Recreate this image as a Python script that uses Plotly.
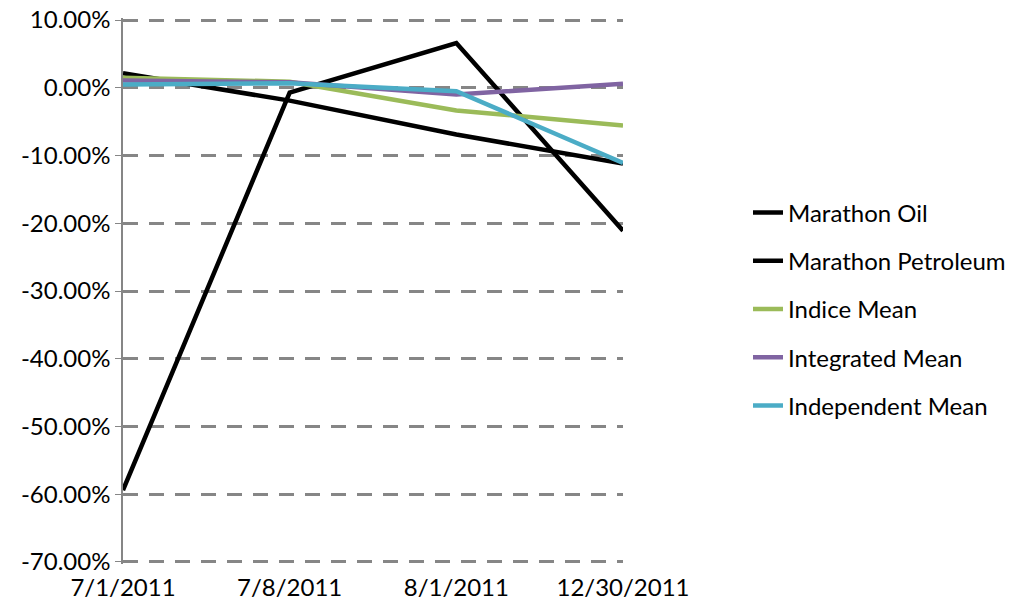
import plotly.graph_objects as go

dates = ["7/1/2011", "7/8/2011", "8/1/2011", "12/30/2011"]
marathon_oil = [-0.594, -0.007, 0.066, -0.211]
marathon_petroleum = [0.0215, -0.019, -0.069, -0.112]
indice_mean = [0.0147, 0.009, -0.0335, -0.0556]
integrated_mean = [0.0107, 0.008, -0.010, 0.006]
independent_mean = [0.0049, 0.0068, -0.005, -0.111]

series = [
    ("Marathon Oil", marathon_oil, "#000000"),
    ("Marathon Petroleum", marathon_petroleum, "#000000"),
    ("Indice Mean", indice_mean, "#9BBB59"),
    ("Integrated Mean", integrated_mean, "#8064A2"),
    ("Independent Mean", independent_mean, "#4BACC6"),
]
y_ticks = [0.1, 0.0, -0.1, -0.2, -0.3, -0.4, -0.5, -0.6, -0.7]
y_tick_text = ["%.2f%%" % (v * 100) for v in y_ticks]
y_tick_text = [t.replace("-0.00", "0.00") for t in y_tick_text]

fig = go.Figure()
for i, (name, vals, col) in enumerate(series):
    fig.add_trace(go.Scatter(x=dates, y=vals, name=name, mode="lines",
                             line=dict(color=col, width=4.5),
                             legendgroup=str(i)))

FONT = "Lato, Carlito, Calibri, sans-serif"
fig.update_layout(
    width=1018, height=609,
    margin=dict(l=123, r=395, t=18, b=45, autoexpand=False),
    paper_bgcolor="white", plot_bgcolor="white",
    font=dict(family=FONT, size=24, color="#000000"),
    showlegend=True,
    legend=dict(x=1.25, xanchor="left", y=0.467, yanchor="middle",
                font=dict(size=24, family=FONT), traceorder="grouped",
                tracegroupgap=14, bgcolor="rgba(0,0,0,0)"),
    xaxis=dict(type="category", range=[0, 3], showgrid=False, zeroline=False,
               showline=False, ticks="", tickfont=dict(size=24),
               ticklabelstandoff=7, automargin=False,
               ticklabeloverflow="allow"),
    yaxis=dict(range=[-0.703, 0.103], tickvals=y_ticks, ticktext=y_tick_text,
               showgrid=True, gridcolor="#868686", gridwidth=3,
               griddash="15px,11px", zeroline=False,
               showline=True, linecolor="#868686", linewidth=1.5,
               ticks="outside", ticklen=6, tickcolor="#868686",
               tickfont=dict(size=24), automargin=False,
               ticklabeloverflow="allow"),
)
fig.write_html("out.html",
               config={"displayModeBar": False},
               post_script="document.body.style.margin='0px';"
                           "document.body.style.overflow='hidden';")
